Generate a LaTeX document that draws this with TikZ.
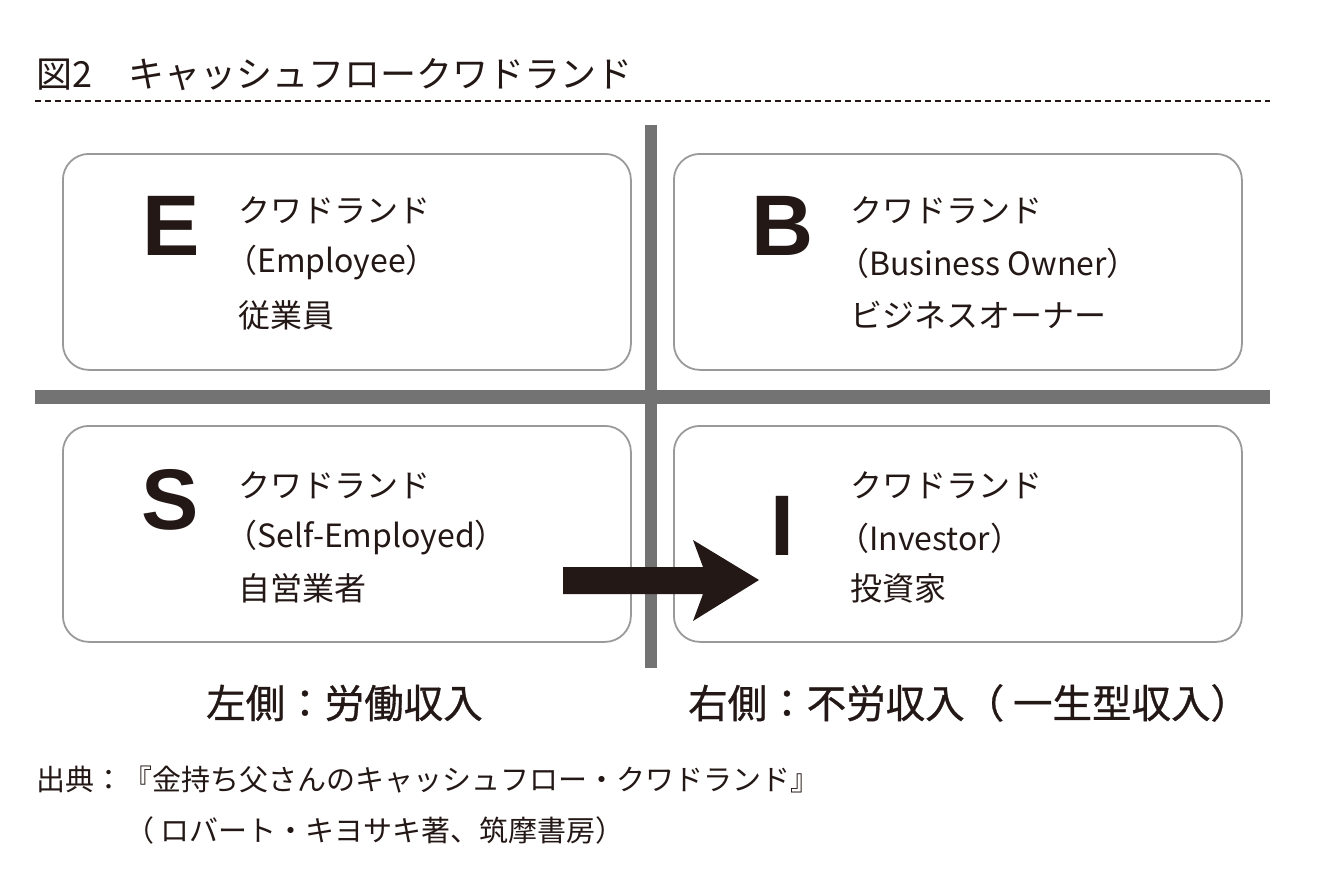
\documentclass[tikz,border=0pt]{standalone}
\usepackage{fontspec}
\setmainfont{Liberation Sans}
\newfontfamily\jp{Noto Sans CJK JP}
\newfontfamily\jpm[FakeBold=0.8]{Noto Sans CJK JP}
\definecolor{ink}{HTML}{231815}
\definecolor{bargray}{HTML}{737373}
\definecolor{boxgray}{HTML}{9A9A9A}
\begin{document}
\begin{tikzpicture}[x=1pt,y=-1pt,
  quad/.style={draw=boxgray, line width=1.8pt, rounded corners=26pt, minimum width=568pt, minimum height=216pt, anchor=north west, inner sep=0pt},
  big/.style={font=\fontsize{86}{86}\selectfont\bfseries, text=ink, inner sep=0pt, anchor=base west},
  lbl/.style={font=\jp\fontsize{32}{32}\selectfont, text=ink, inner sep=0pt, anchor=west},
  income/.style={font=\jpm\fontsize{39.5}{39.5}\selectfont, text=ink, inner sep=0pt, anchor=west},
  src/.style={font=\jp\fontsize{29}{29}\selectfont, text=ink, inner sep=0pt, anchor=west},
  ttl/.style={font=\jp\fontsize{36}{36}\selectfont, text=ink, inner sep=0pt, anchor=west}]
\useasboundingbox (0,0) rectangle (1322,883);
% title
\node[ttl] (title) at (36,75) {図2　キャッシュフロークワドランド};
\coordinate (dl) at (35,101);
\coordinate (dr) at (1270,101);
\draw[ink, line width=2pt, dash pattern=on 6pt off 4pt] (dl) -- (dr);
% bars
\fill[bargray] (35,390) rectangle (1270,404);
\fill[bargray] (645,125) rectangle (657,668);
% boxes
\node[quad] (Ebox) at (62,153) {};
\node[quad] (Bbox) at (673,153) {};
\node[quad] (Sbox) at (62,425) {};
\node[quad] (Ibox) at (673,425) {};
% letters
\node[big] (E) at (142,255) {E};
\node[big] (B) at (751,255) {B};
\node[big] (S) at (141,529) {S};
\node[big] (I) at (770,555) {I};
% E
\node[lbl] (E1) at (238,210) {クワドランド};
\node[lbl] (E2) at (225,263) {（Employee）};
\node[lbl] (E3) at (238,315) {従業員};
% B
\node[lbl] (B1) at (850,210) {クワドランド};
\node[lbl] (B2) at (837,263) {（Business Owner）};
\node[lbl] (B3) at (850,315) {ビジネスオーナー};
% S
\node[lbl] (S1) at (238,485) {クワドランド};
\node[lbl] (S2) at (225,538) {（Self-Employed）};
\node[lbl] (S3) at (238,588) {自営業者};
% I
\node[lbl] (I1) at (850,485) {クワドランド};
\node[lbl] (I2) at (837,538) {（Investor）};
\node[lbl] (I3) at (850,588) {投資家};
% arrow
\fill[ink] (563,567) -- (703,567) -- (693,540) -- (759,580) -- (693,621) -- (703,594) -- (563,594) -- cycle;
% income labels
\node[income] (left) at (206,703) {左側：労働収入};
\node[income] (right) at (688,703) {右側：不労収入（ 一生型収入）};
% source
\node[src] (src1) at (36,780) {出典：『金持ち父さんのキャッシュフロー・クワドランド』};
\node[src] (src2) at (125,830) {（ ロバート・キヨサキ著、筑摩書房）};
\end{tikzpicture}
\end{document}
